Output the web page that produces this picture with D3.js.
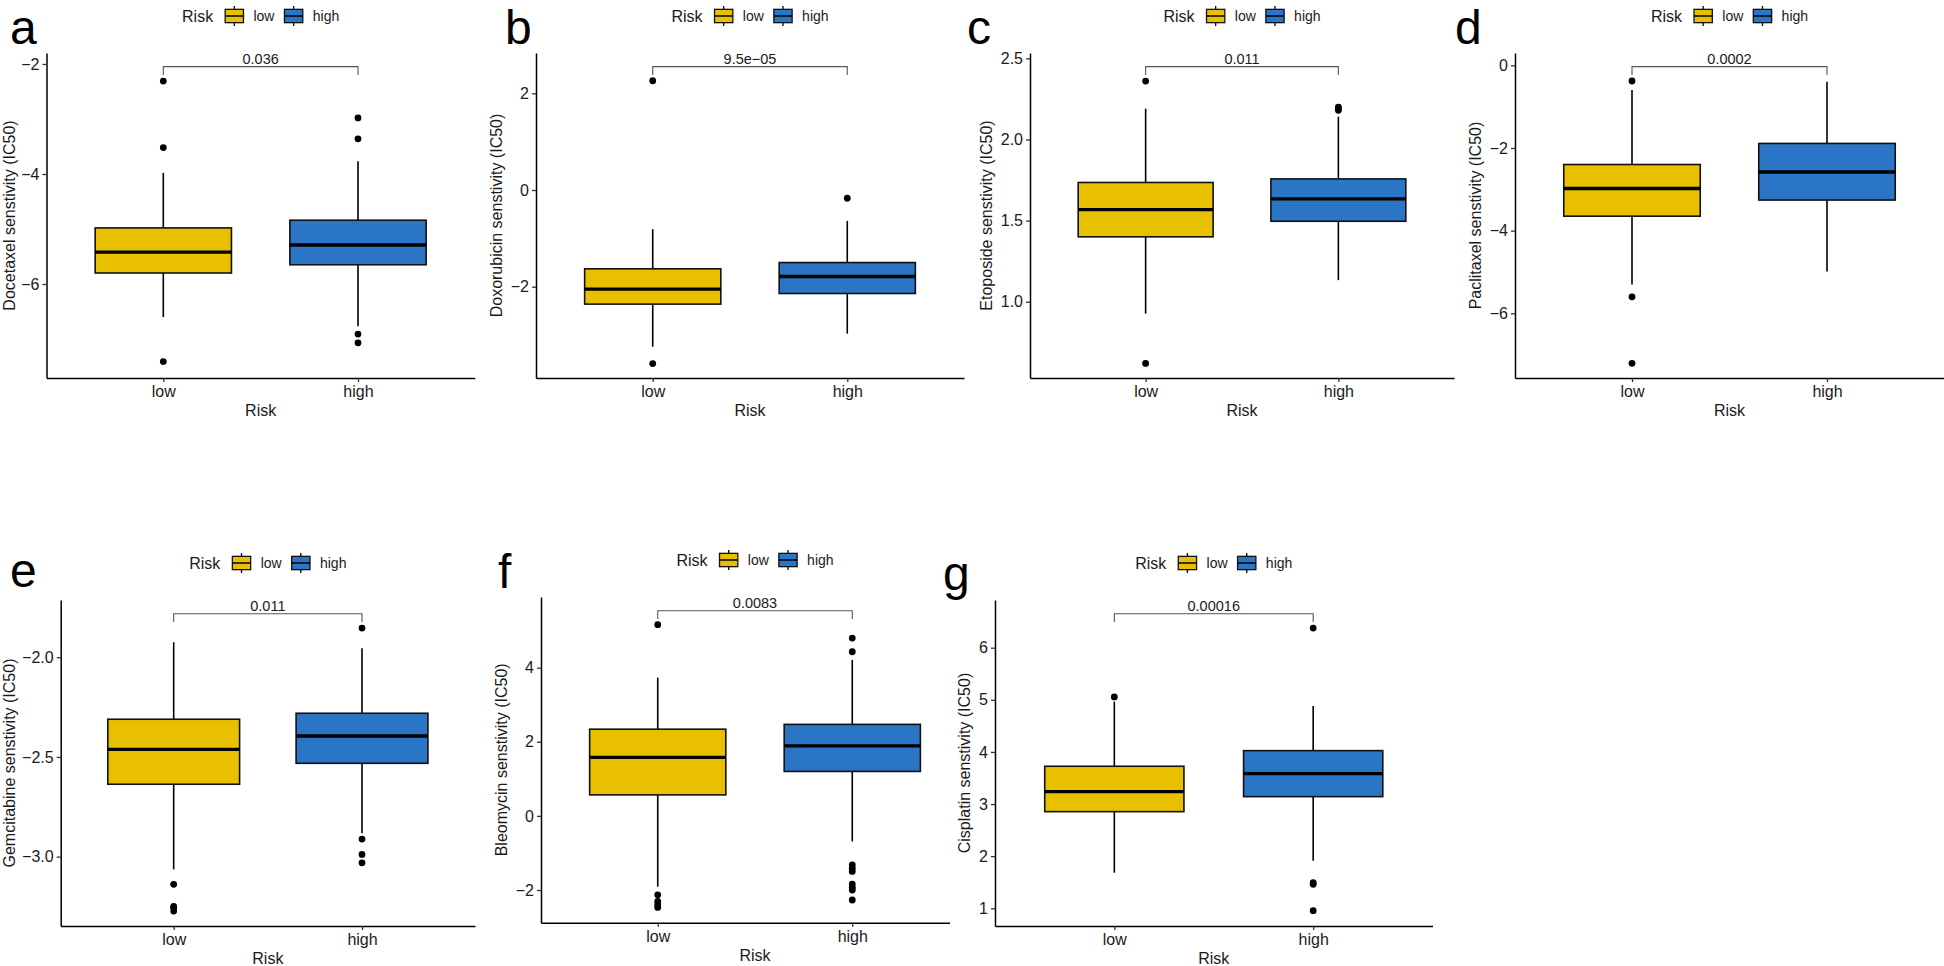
<!DOCTYPE html>
<html><head><meta charset="utf-8">
<script src="https://cdn.jsdelivr.net/npm/d3@7"></script>
<style>
body{margin:0;background:#fff;}
svg{display:block;font-family:"Liberation Sans",Arial,Helvetica,sans-serif;}
</style>
</head><body>
<svg id="chart" width="1944" height="966"></svg>
<script>
// ---------- data ----------
const drugs = ["Docetaxel","Doxorubicin","Etoposide","Paclitaxel","Gemcitabine","Bleomycin","Cisplatin"];
const panelLetters = ["a","b","c","d","e","f","g"];
const groups = ["low","high"];
const groupColors = ["#E9C000","#2A75C5"];
const pValues = ["0.036","9.5e\u221205","0.011","0.0002","0.011","0.0083","0.00016"];
// [lower whisker, Q1, median, Q3, upper whisker]
const lowStats = [
  [-6.60,-5.80,-5.42,-4.98,-3.98],
  [-3.24,-2.36,-2.05,-1.63,-0.81],
  [0.927,1.40,1.568,1.735,2.19],
  [-5.30,-3.65,-2.98,-2.40,-0.60],
  [-3.064,-2.637,-2.462,-2.311,-1.925],
  [-1.91,0.567,1.58,2.34,3.73],
  [1.683,2.854,3.238,3.725,4.965]
];
const highStats = [
  [-6.77,-5.65,-5.29,-4.84,-3.77],
  [-2.97,-2.14,-1.79,-1.50,-0.64],
  [1.133,1.496,1.634,1.757,2.14],
  [-4.99,-3.26,-2.58,-1.89,-0.40],
  [-2.883,-2.532,-2.395,-2.281,-1.955],
  [-0.69,1.20,1.89,2.47,4.21],
  [1.914,3.142,3.584,4.025,4.883]
];
const lowOutliers = [
  [-2.31,-3.52,-7.41],
  [2.26,-3.59],
  [2.36,0.62],
  [-0.38,-5.60,-7.21],
  [-3.139,-3.25,-3.256,-3.273],
  [5.16,-2.13,-2.31,-2.40,-2.47],
  [5.056]
];
const highOutliers = [
  [-2.98,-3.36,-6.91,-7.07],
  [-0.17],
  [2.20,2.19,2.18],
  [],
  [-1.854,-2.912,-2.989,-3.031],
  [4.80,4.43,-1.32,-1.41,-1.50,-1.84,-1.93,-2.00,-2.27],
  [6.377,1.49,1.46,0.955]
];
const yTicks = [
  [-6,-4,-2],
  [-2,0,2],
  [1.0,1.5,2.0,2.5],
  [-6,-4,-2,0],
  [-3.0,-2.5,-2.0],
  [-2,0,2,4],
  [1,2,3,4,5,6]
];
const yTickFormats = ["d","d",".1f","d",".1f","d","d"];
const yDomains = [
  [-7.709,-1.80],
  [-3.888,2.834],
  [0.530,2.533],
  [-7.565,0.298],
  [-3.348,-1.713],
  [-2.883,5.908],
  [0.660,6.915]
];

// ---------- layout ----------
const layout = [
  {x0:46.5,x1:474.8,y0:53,y1:378,lx:10,ly:44,legY:16},
  {x0:536,x1:964,y0:53,y1:378,lx:505,ly:44,legY:16},
  {x0:1030,x1:1454,y0:53,y1:378,lx:967,ly:44,legY:16},
  {x0:1515,x1:1944,y0:53,y1:378,lx:1455,ly:44,legY:16},
  {x0:60.7,x1:475,y0:600,y1:926,lx:10,ly:587,legY:563},
  {x0:541,x1:969,y0:597,y1:922.7,lx:498,ly:588,legY:560},
  {x0:995,x1:1432.5,y0:600,y1:926,lx:943,ly:590,legY:563,coverFrom:950}
];

const svg = d3.select("#chart");
svg.append("rect").attr("width",1944).attr("height",966).attr("fill","#fff");

drugs.forEach((drug,i)=>{
  const L = layout[i];
  const g = svg.append("g");
  if (L.coverFrom) {
    g.append("rect").attr("x",L.coverFrom).attr("y",540).attr("width",1944-L.coverFrom).attr("height",426).attr("fill","#fff");
  }
  const x = d3.scalePoint().domain(groups).range([L.x0,L.x1]).padding(0.6);
  const y = d3.scaleLinear().domain(yDomains[i]).range([L.y1,L.y0]);
  const bw = x.step()*0.7;
  const cx = (L.x0+L.x1)/2;

  // panel letter
  g.append("text").attr("x",L.lx).attr("y",L.ly).attr("font-size",48).attr("fill","#000").text(panelLetters[i]);

  // legend
  const leg = g.append("g");
  let cur = 0;
  const t1 = leg.append("text").attr("x",cur).attr("y",0).attr("dy","0.35em").attr("font-size",16).attr("fill","#1a1a1a").text("Risk");
  cur += t1.node().getComputedTextLength() + 12;
  groups.forEach((grp,k)=>{
    const kw = 18.3, kh = 13.3;
    leg.append("line").attr("x1",cur+kw/2).attr("x2",cur+kw/2).attr("y1",-10).attr("y2",10).attr("stroke","#000").attr("stroke-width",1.3);
    leg.append("rect").attr("x",cur).attr("y",-kh/2).attr("width",kw).attr("height",kh).attr("fill",groupColors[k]).attr("stroke","#111").attr("stroke-width",1.3);
    leg.append("line").attr("x1",cur).attr("x2",cur+kw).attr("y1",0).attr("y2",0).attr("stroke","#000").attr("stroke-width",1.5);
    cur += kw + 10;
    const tt = leg.append("text").attr("x",cur).attr("y",0).attr("dy","0.35em").attr("font-size",14).attr("fill","#1a1a1a").text(grp);
    cur += tt.node().getComputedTextLength() + 10;
  });
  const lw = cur - 10;
  leg.attr("transform",`translate(${cx-lw/2},${L.legY})`);

  // boxes
  const statsList = [lowStats[i], highStats[i]];
  const outList = [lowOutliers[i], highOutliers[i]];
  groups.forEach((grp,k)=>{
    const s = statsList[k];
    const xc = x(grp);
    const bg = g.append("g");
    bg.append("line").attr("x1",xc).attr("x2",xc).attr("y1",y(s[4])).attr("y2",y(s[3])).attr("stroke","#000").attr("stroke-width",1.6);
    bg.append("line").attr("x1",xc).attr("x2",xc).attr("y1",y(s[1])).attr("y2",y(s[0])).attr("stroke","#000").attr("stroke-width",1.6);
    bg.append("rect").attr("x",xc-bw/2).attr("width",bw).attr("y",y(s[3])).attr("height",y(s[1])-y(s[3]))
      .attr("fill",groupColors[k]).attr("stroke","#111").attr("stroke-width",1.6);
    bg.append("line").attr("x1",xc-bw/2).attr("x2",xc+bw/2).attr("y1",y(s[2])).attr("y2",y(s[2])).attr("stroke","#000").attr("stroke-width",3.4);
    bg.selectAll("circle.o").data(outList[k]).enter().append("circle")
      .attr("cx",xc).attr("cy",d=>y(d)).attr("r",3.4).attr("fill","#000");
  });

  // bracket + p-value
  const dom = yDomains[i];
  const rng = dom[1]-dom[0];
  const by = y(dom[1]-0.042*rng);
  const tip = y(dom[1]-0.0675*rng);
  const xl = x(groups[0]), xh = x(groups[1]);
  g.append("path").attr("d",`M${xl},${tip}V${by}H${xh}V${tip}`).attr("fill","none").attr("stroke","#555").attr("stroke-width",1.1);
  g.append("text").attr("x",(xl+xh)/2).attr("y",by-2.5).attr("text-anchor","middle").attr("font-size",14.5).attr("fill","#1a1a1a").text(pValues[i]);

  // axes
  const ya = g.append("g").attr("transform",`translate(${L.x0},0)`)
    .call(d3.axisLeft(y).tickValues(yTicks[i]).tickFormat(d3.format(yTickFormats[i])).tickSize(4).tickSizeOuter(0).tickPadding(3));
  const xa = g.append("g").attr("transform",`translate(0,${L.y1})`)
    .call(d3.axisBottom(x).tickSize(4).tickSizeOuter(0).tickPadding(4));
  [ya,xa].forEach(a=>{
    a.attr("font-family",null).attr("font-size",null);
    a.select(".domain").attr("stroke","#000").attr("stroke-width",1.5);
    a.selectAll(".tick line").attr("stroke","#333").attr("stroke-width",1.3);
    a.selectAll(".tick text").attr("font-size",16).attr("fill","#1a1a1a");
  });
  let maxW = 0;
  ya.selectAll(".tick text").each(function(){ maxW = Math.max(maxW, this.getComputedTextLength()); });

  // axis titles
  const ty = (L.y0+L.y1)/2;
  const tx = Math.max(L.x0 - 7 - maxW - 9, L.x0 < 100 ? 15 : 0);
  g.append("text").attr("transform",`translate(${tx},${ty}) rotate(-90)`).attr("text-anchor","middle")
    .attr("font-size",16).attr("fill","#1a1a1a").text(drug + " senstivity (IC50)");
  g.append("text").attr("x",cx).attr("y",L.y1+38).attr("text-anchor","middle").attr("font-size",16).attr("fill","#1a1a1a").text("Risk");
});
</script>
</body></html>
